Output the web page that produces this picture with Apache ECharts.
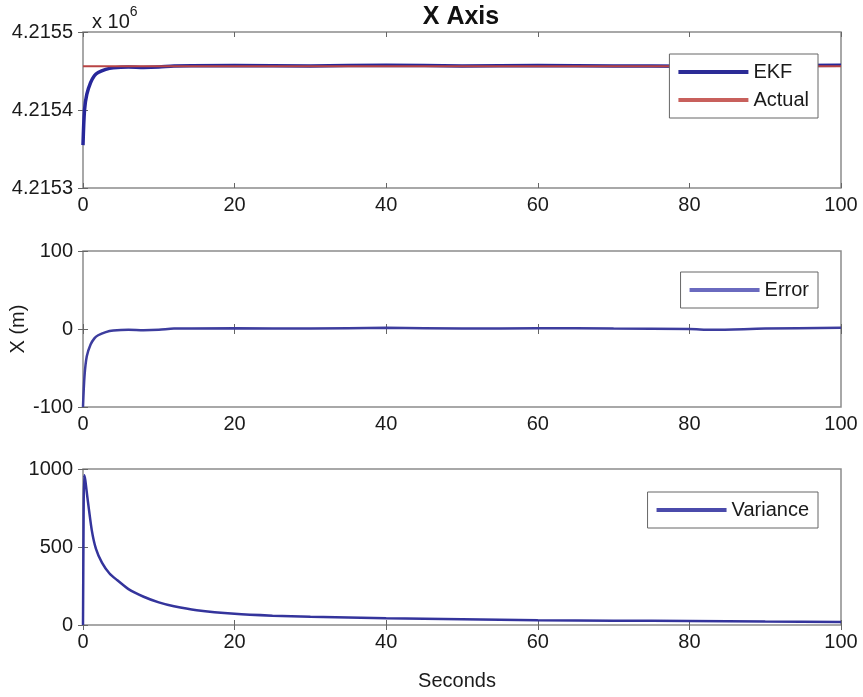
<!DOCTYPE html>
<html>
<head>
  <meta charset="utf-8">
</head>
<body style="margin: 0; background: #fff">
  <div id="container" style="width: 863px; height: 697px"></div>
  <script src="https://cdn.jsdelivr.net/npm/echarts@6/dist/echarts.min.js"></script>
  <script>
    // time stamps (s)
    var tEkf = [0, 0.2, 0.5, 1, 1.5, 2, 3, 4, 6, 8, 10, 12, 20, 30, 40, 50, 60, 70, 80, 83, 90, 100];
    var ekf = [4215355, 4215400, 4215420, 4215435, 4215444, 4215448, 4215452, 4215454, 4215455, 4215454.5,
      4215455, 4215456.5, 4215457, 4215456.5, 4215457.5, 4215456.5, 4215457, 4215456.5, 4215456, 4215455, 4215456.5, 4215457.5];
    var tActual = [0, 100];
    var actual = [4215456, 4215456];

    var tErr = [0, 0.2, 0.5, 1, 1.5, 2, 3, 4, 6, 8, 10, 12, 20, 30, 40, 50, 60, 70, 80, 83, 90, 100];
    var err = [-100, -60, -35, -20, -12, -8, -4, -2, -1, -1.5, -1, 0.5, 1, 0.5, 1.5, 0.5, 1, 0.5, 0, -1, 0.5, 1.5];

    var tVar = [0, 0.08, 0.15, 0.3, 0.6, 1.15, 1.7, 2.5, 3.5, 4.5, 6, 8, 10, 12, 15, 20, 25, 30, 40, 50, 60, 70, 80, 90, 100];
    var variance = [0, 700, 960, 930, 810, 610, 490, 400, 330, 288, 230, 181, 145, 120, 95, 72, 60, 53, 44, 37, 31, 28, 25, 22, 20];

    function zip(a, b) {
      return a.map(function (v, i) { return [v, b[i]]; });
    }

    var font = 'Liberation Sans, Arial, sans-serif';
    var frame = '#8c8c8c';
    var txt = '#1a1a1a';

    var grids = [
      { left: 83, right: 22, top: 32, height: 156 },
      { left: 83, right: 22, top: 251, height: 156 },
      { left: 83, right: 22, top: 469, height: 156 }
    ];

    var xAxes = [], yAxes = [];
    var yCfg = [
      { min: 4215300, max: 4215500, interval: 100, fmt: function (v) { return (v / 1e6).toFixed(4); } },
      { min: -100, max: 100, interval: 100, fmt: function (v) { return v; } },
      { min: 0, max: 1000, interval: 500, fmt: function (v) { return v; } }
    ];
    grids.forEach(function (g, i) {
      g.show = true;
      g.borderColor = frame;
      g.borderWidth = 1.5;
      g.containLabel = false;
      g.outerBoundsMode = 'none';
      xAxes.push({
        type: 'value', gridIndex: i, min: 0, max: 100, interval: 20,
        axisLine: { show: false },
        axisTick: { inside: true, length: 5, lineStyle: { color: '#666' } },
        splitLine: { show: false },
        axisLabel: { fontSize: 20, color: txt, fontFamily: font, margin: 7 },
        name: i === 2 ? 'Seconds' : '',
        nameLocation: 'middle', nameGap: 46, nameMoveOverlap: false,
        nameTextStyle: { fontSize: 20, color: txt, fontFamily: font, padding: [0, 10, 0, 0] }
      });
      xAxes.push({
        type: 'value', gridIndex: i, min: 0, max: 100, interval: 20, position: 'top',
        axisLine: { show: false },
        axisTick: { inside: true, length: 5, lineStyle: { color: '#666' } },
        splitLine: { show: false }, axisLabel: { show: false }
      });
      var c = yCfg[i];
      yAxes.push({
        type: 'value', gridIndex: i, min: c.min, max: c.max, interval: c.interval,
        axisLine: { show: false },
        axisTick: { show: true, inside: true, length: 5, lineStyle: { color: '#666' } },
        splitLine: { show: false },
        axisLabel: { fontSize: 20, color: txt, fontFamily: font, margin: 10, formatter: c.fmt },
        name: i === 1 ? 'X (m)' : '',
        nameLocation: 'middle', nameGap: 55, nameRotate: 90, nameMoveOverlap: false,
        nameTextStyle: { fontSize: 20, color: txt, fontFamily: font }
      });
      yAxes.push({
        type: 'value', gridIndex: i, min: c.min, max: c.max, interval: c.interval, position: 'right',
        axisLine: { show: false },
        axisTick: { show: true, inside: true, length: 5, lineStyle: { color: '#666' } },
        splitLine: { show: false }, axisLabel: { show: false }
      });
    });

    var legendBase = {
      orient: 'vertical',
      right: 45,
      backgroundColor: '#fff',
      borderColor: '#666',
      borderWidth: 1,
      borderRadius: 0,
      padding: [8, 9, 8, 9],
      itemWidth: 70,
      itemHeight: 4,
      itemGap: 8,
      icon: 'rect',
      textStyle: { fontSize: 20, color: txt, fontFamily: font }
    };

    var dom = document.getElementById('container');
    var myChart = echarts.init(dom, null, { renderer: 'canvas' });

    var option = {
      animation: false,
      title: {
        text: 'X Axis', left: 456, top: 0, textAlign: 'center',
        textStyle: { fontSize: 25, fontWeight: 'bold', color: '#111', fontFamily: font }
      },
      graphic: [{
        type: 'text', left: 92, top: 5,
        style: {
          text: '{a|x 10}{b|6}',
          rich: {
            a: { fontSize: 20, fontFamily: font, fill: txt, padding: [7, 0, 0, 0] },
            b: { fontSize: 14, fontFamily: font, fill: txt, verticalAlign: 'top' }
          }
        }
      }],
      grid: grids,
      xAxis: xAxes,
      yAxis: yAxes,
      legend: [
        Object.assign({}, legendBase, { top: 54, data: ['EKF', 'Actual'] }),
        Object.assign({}, legendBase, { top: 272, data: ['Error'] }),
        Object.assign({}, legendBase, { top: 492, data: ['Variance'] })
      ],
      series: [
        {
          name: 'EKF', type: 'line', xAxisIndex: 0, yAxisIndex: 0, showSymbol: false, smooth: 0.3,
          data: zip(tEkf, ekf), lineStyle: { color: '#27279a', width: 3.5 }, itemStyle: { color: '#2b2b96' }
        },
        {
          name: 'Actual', type: 'line', xAxisIndex: 0, yAxisIndex: 0, showSymbol: false,
          data: zip(tActual, actual), lineStyle: { color: '#b84444', width: 2 }, itemStyle: { color: '#c8605c' }
        },
        {
          name: 'Error', type: 'line', xAxisIndex: 2, yAxisIndex: 2, showSymbol: false, smooth: 0.3,
          data: zip(tErr, err), lineStyle: { color: '#3d3d9e', width: 2.5 }, itemStyle: { color: '#6a6abf' }
        },
        {
          name: 'Variance', type: 'line', xAxisIndex: 4, yAxisIndex: 4, showSymbol: false, smooth: 0.2,
          data: zip(tVar, variance), lineStyle: { color: '#34349c', width: 2.5 }, itemStyle: { color: '#4b4bab' }
        }
      ]
    };

    myChart.setOption(option);
    window.addEventListener('resize', myChart.resize);
  </script>
</body>
</html>
